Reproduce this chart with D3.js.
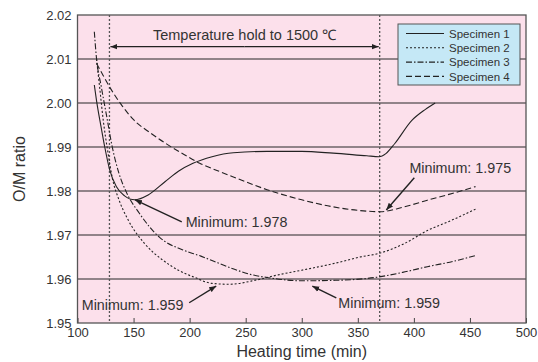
<!DOCTYPE html>
<html>
<head>
<meta charset="utf-8">
<script src="https://cdn.jsdelivr.net/npm/d3@7"></script>
<style>
  body { margin: 0; background: #fff; }
  svg { display: block; font-family: "Liberation Sans", Arial, sans-serif; }
</style>
</head>
<body>
<div id="chart"></div>
<script>
// heating time (min) / O/M ratio
const spec1 = [[115, 2.0041], [117, 2.0005], [120, 1.996], [121, 1.9946], [124.3, 1.990], [128.7, 1.9848], [134.6, 1.981],
  [142, 1.9789], [151, 1.978], [163, 1.9791], [178, 1.9821], [190, 1.9845], [203, 1.9863], [220, 1.9878], [239, 1.9887],
  [269, 1.989], [300, 1.989], [328, 1.9886], [358, 1.988], [369, 1.9878], [375, 1.9885], [383, 1.9908], [398, 1.996],
  [410, 1.9985], [419, 2.000]];
const spec2 = [[117, 2.010], [120, 2.003], [123, 1.996], [127, 1.989], [131, 1.983], [137, 1.978], [145, 1.9735],
  [160, 1.968], [175, 1.9645], [190, 1.962], [205, 1.9603], [220, 1.959], [235, 1.9588], [260, 1.9598], [280, 1.961],
  [300, 1.962], [330, 1.9636], [352, 1.965], [370, 1.9659], [391, 1.968], [412, 1.971], [435, 1.9735], [456, 1.976]];
const spec3 = [[115, 2.0162], [117, 2.010], [121, 2.004], [126, 1.997], [131, 1.990], [137, 1.984], [144, 1.9795],
  [155, 1.975], [173, 1.9695], [194, 1.9666], [210, 1.9652], [225, 1.9637], [240, 1.9622], [255, 1.961], [270, 1.9603],
  [300, 1.9596], [330, 1.9597], [367, 1.9604], [390, 1.9615], [412, 1.9628], [435, 1.964], [456, 1.9654]];
const spec4 = [[117, 2.009], [123, 2.0062], [129, 2.0035], [140, 1.9993], [150, 1.9962], [165, 1.9932], [180, 1.9906],
  [195, 1.9883], [209, 1.9863], [225, 1.9846], [239, 1.9832], [255, 1.9816], [269, 1.9803], [300, 1.978], [328, 1.9764],
  [350, 1.9756], [370, 1.9753], [390, 1.9763], [412, 1.9779], [435, 1.9795], [455, 1.981]];

const seriesNames = ['Specimen 1', 'Specimen 2', 'Specimen 3', 'Specimen 4'];
const seriesData = [spec1, spec2, spec3, spec4];
const dashes = [null, '2,2', '6,2,1.5,2', '6,3'];

const xTicks = [100, 150, 200, 250, 300, 350, 400, 450, 500];
const yTicks = [1.95, 1.96, 1.97, 1.98, 1.99, 2.00, 2.01, 2.02];
const holdStart = 128.5;
const holdEnd = 369.5;

// annotations: text, text position (x, y), arrow tail and tip (x, y)
const notes = [
  {text: 'Minimum: 1.978', tx: 196.5, ty: 1.9718, tail: [193, 1.9730], tip: [151.3, 1.9780]},
  {text: 'Minimum: 1.959', tx: 103.8, ty: 1.9530, tail: [199.6, 1.9546], tip: [223.7, 1.9584]},
  {text: 'Minimum: 1.959', tx: 332.6, ty: 1.9534, tail: [330.8, 1.9557], tip: [309.4, 1.9584]},
  {text: 'Minimum: 1.975', tx: 396, ty: 1.9841, tail: [400.4, 1.9830], tip: [375.4, 1.9757]}
];

const width = 538, height = 362;
const margin = {top: 15, right: 12, bottom: 39, left: 77.5};

const svg = d3.select('#chart').append('svg')
  .attr('width', width)
  .attr('height', height);

const x = d3.scaleLinear().domain([100, 500]).range([margin.left, width - margin.right]);
const y = d3.scaleLinear().domain([1.95, 2.02]).range([height - margin.bottom, margin.top]);

const defs = svg.append('defs');
defs.append('marker')
  .attr('id', 'head')
  .attr('viewBox', '0 0 10 10')
  .attr('refX', 10).attr('refY', 5)
  .attr('markerWidth', 7).attr('markerHeight', 7)
  .attr('markerUnits', 'userSpaceOnUse')
  .attr('orient', 'auto')
  .append('path')
  .attr('d', 'M0,1 L10,5 L0,9 Z')
  .attr('fill', '#222');

// plot background
svg.append('rect')
  .attr('x', x(100)).attr('y', y(2.02))
  .attr('width', x(500) - x(100)).attr('height', y(1.95) - y(2.02))
  .attr('fill', '#fce0eb');

// horizontal grid
svg.append('g')
  .selectAll('line')
  .data(yTicks.slice(1, -1))
  .enter().append('line')
  .attr('x1', x(100)).attr('x2', x(500))
  .attr('y1', d => y(d)).attr('y2', d => y(d))
  .attr('stroke', '#6e6468')
  .attr('stroke-width', 1.3);

// axes
const xAxis = svg.append('g')
  .attr('transform', `translate(0,${y(1.95)})`)
  .call(d3.axisBottom(x).tickValues(xTicks).tickSizeInner(-5).tickSizeOuter(0).tickPadding(5).tickFormat(d3.format('d')));
xAxis.select('.domain').remove();
xAxis.selectAll('line').attr('stroke', '#444');
xAxis.selectAll('text').attr('fill', '#333').style('font-size', '13px');

const yAxis = svg.append('g')
  .attr('transform', `translate(${x(100)},0)`)
  .call(d3.axisLeft(y).tickValues(yTicks).tickSize(0).tickPadding(6).tickFormat(d3.format('.2f')));
yAxis.select('.domain').remove();
yAxis.selectAll('text').attr('fill', '#333').style('font-size', '13px');

// frame
svg.append('rect')
  .attr('x', x(100)).attr('y', y(2.02))
  .attr('width', x(500) - x(100)).attr('height', y(1.95) - y(2.02))
  .attr('fill', 'none')
  .attr('stroke', '#555')
  .attr('stroke-width', 1.3);

// temperature hold markers
svg.append('g')
  .selectAll('line')
  .data([holdStart, holdEnd])
  .enter().append('line')
  .attr('x1', d => x(d)).attr('x2', d => x(d))
  .attr('y1', y(2.02)).attr('y2', y(1.95))
  .attr('stroke', '#555')
  .attr('stroke-width', 1.3)
  .attr('stroke-dasharray', '2,2');

const midHold = (x(holdStart) + x(holdEnd)) / 2;
[holdStart, holdEnd].forEach(v => {
  svg.append('line')
    .attr('x1', midHold).attr('x2', x(v) + (v === holdStart ? 1 : -1))
    .attr('y1', y(2.0128)).attr('y2', y(2.0128))
    .attr('stroke', '#222').attr('stroke-width', 1.2)
    .attr('marker-end', 'url(#head)');
});

svg.append('text')
  .attr('x', midHold)
  .attr('y', y(2.0143))
  .attr('text-anchor', 'middle')
  .attr('fill', '#333')
  .style('font-size', '14.5px')
  .text('Temperature hold to 1500 \u2103');

// curves
const line = d3.line()
  .x(d => x(d[0]))
  .y(d => y(d[1]))
  .curve(d3.curveMonotoneX);

svg.append('g')
  .selectAll('path')
  .data(seriesData)
  .enter().append('path')
  .attr('d', line)
  .attr('fill', 'none')
  .attr('stroke', '#222')
  .attr('stroke-width', 1.1)
  .attr('stroke-dasharray', (d, i) => dashes[i]);

// minimum annotations
const noteG = svg.append('g');
notes.forEach(n => {
  noteG.append('line')
    .attr('x1', x(n.tail[0])).attr('y1', y(n.tail[1]))
    .attr('x2', x(n.tip[0])).attr('y2', y(n.tip[1]))
    .attr('stroke', '#222').attr('stroke-width', 1.4)
    .attr('marker-end', 'url(#head)');
  noteG.append('text')
    .attr('x', x(n.tx)).attr('y', y(n.ty))
    .attr('fill', '#333')
    .style('font-size', '14.3px')
    .text(n.text);
});

// legend
const legend = svg.append('g').attr('transform', 'translate(398,24)');
legend.append('rect')
  .attr('width', 122).attr('height', 61)
  .attr('fill', '#c5e8f6')
  .attr('stroke', '#555')
  .attr('stroke-width', 1);
const items = legend.selectAll('g.item')
  .data(seriesNames)
  .enter().append('g')
  .attr('class', 'item')
  .attr('transform', (d, i) => `translate(0,${9.5 + i * 14.3})`);
items.append('line')
  .attr('x1', 8).attr('x2', 46)
  .attr('stroke', '#222').attr('stroke-width', 1.1)
  .attr('stroke-dasharray', (d, i) => dashes[i]);
items.append('text')
  .attr('x', 51).attr('y', 4.2)
  .attr('fill', '#333')
  .style('font-size', '11.5px')
  .text(d => d);

// axis titles
svg.append('text')
  .attr('x', (x(100) + x(500)) / 2)
  .attr('y', 357)
  .attr('text-anchor', 'middle')
  .attr('fill', '#333')
  .style('font-size', '16px')
  .text('Heating time (min)');

svg.append('text')
  .attr('transform', `translate(25,${(y(1.95) + y(2.02)) / 2}) rotate(-90)`)
  .attr('text-anchor', 'middle')
  .attr('fill', '#333')
  .style('font-size', '16px')
  .text('O/M ratio');
</script>
</body>
</html>
